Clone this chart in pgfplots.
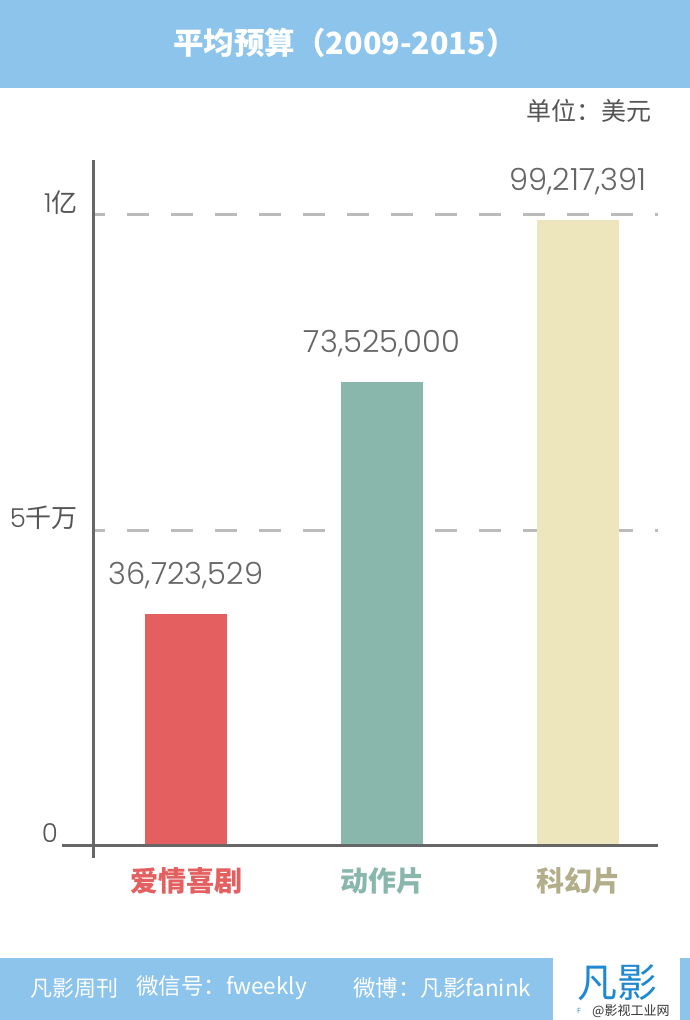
\documentclass[border=0pt]{standalone}
\usepackage{fontspec}
\usepackage{pgfplots}
\usepackage{pgfplotstable}
\pgfplotsset{compat=1.18}
\setmainfont{Noto Sans CJK SC}
\IfFontExistsTF{Poppins Light}{\newfontfamily\numfont{Poppins Light}}{\newfontfamily\numfont{Poppins}}
\definecolor{titleblue}{HTML}{8CC4EC}
\definecolor{romred}{HTML}{E35F60}
\definecolor{actteal}{HTML}{89B7AC}
\definecolor{scibeige}{HTML}{EDE5BC}
\definecolor{scikhaki}{HTML}{B3AE8A}
\definecolor{axisgray}{HTML}{666666}
\definecolor{gridgray}{HTML}{BBBBBB}
\definecolor{valgray}{HTML}{666666}
\definecolor{tickgray}{HTML}{555555}
\definecolor{logoblue}{HTML}{1E88D0}

\pgfplotstableread{
x y label
0 36723529 36,723,529
}\tabA
\pgfplotstableread{
x y label
1 73525000 73,525,000
}\tabB
\pgfplotstableread{
x y label
2 99217391 99,217,391
}\tabC

\begin{document}
\begin{tikzpicture}[x=1pt,y=1pt]
\fill[white] (0,0) rectangle (690,1020);
\path[use as bounding box] (0,0) rectangle (690,1020);
% title bar
\fill[titleblue] (0,932) rectangle (690,1020);
\node[text=white, font=\bfseries\fontsize{30.5}{30.5}\selectfont, inner sep=0] at (345,977) {平均预算（2009-2015）};
\node[anchor=east, text=tickgray, font=\fontsize{25}{25}\selectfont, inner sep=0] at (652,909) {单位：美元};

\begin{axis}[
  at={(62pt,162pt)}, anchor=south west,
  scale only axis, width=596pt, height=698pt,
  xmin=-0.6327, xmax=2.4082, ymin=-2.06e6, ymax=1.0873e8,
  axis lines*=left, axis line style={draw=none},
  ybar, bar width=82pt,
  xtick={0,1,2},
  xticklabels={\textcolor{romred}{爱情喜剧},\textcolor{actteal}{动作片},\textcolor{scikhaki}{科幻片}},
  ytick={0,5e7,1e8},
  yticklabels={{\numfont 0}\hspace*{20pt},{\numfont 5}千万,{\numfont 1}亿},
  major tick length=0pt,
  scaled y ticks=false,
  xticklabel style={font=\bfseries\fontsize{28}{28}\selectfont, inner sep=0pt, anchor=north, yshift=-9pt},
  yticklabel style={text=tickgray, font=\fontsize{26}{26}\selectfont, inner sep=0pt, anchor=east, xshift=16pt, yshift=12pt},
  point meta=explicit symbolic,
  nodes near coords,
  every node near coord/.append style={font=\numfont\fontsize{30.5}{30.5}\selectfont, text=valgray, anchor=center, yshift=38pt, inner sep=0pt},
  clip=false,
]
\draw[gridgray, line width=3pt, dash pattern=on 22pt off 22pt, dash phase=12pt] (axis cs:-0.464,5e7) -- (axis cs:2.408,5e7);
\draw[gridgray, line width=3pt, dash pattern=on 22pt off 22pt, dash phase=12pt] (axis cs:-0.464,1e8) -- (axis cs:2.408,1e8);
\addplot[fill=romred, draw=none, bar shift=0pt] table[x=x, y=y, meta=label] {\tabA};
\addplot[fill=actteal, draw=none, bar shift=0pt] table[x=x, y=y, meta=label] {\tabB};
\addplot[fill=scibeige, draw=none, bar shift=0pt] table[x=x, y=y, meta=label] {\tabC};
\draw[axisgray, line width=3pt] (axis cs:-0.6327,0) -- (axis cs:2.4082,0);
\draw[axisgray, line width=3pt] (axis cs:-0.4745,-2.06e6) -- (axis cs:-0.4745,1.0873e8);
\end{axis}

% footer
\fill[titleblue] (0,0) rectangle (553,62);
\fill[titleblue] (680,0) rectangle (690,62);
\node[anchor=west, text=white, font=\fontsize{22}{22}\selectfont, inner sep=0] at (30,32) {凡影周刊};
\node[anchor=west, text=white, font=\fontsize{22.5}{22.5}\selectfont, inner sep=0] at (136,32) {微信号：fweekly};
\node[anchor=west, text=white, font=\fontsize{22.5}{22.5}\selectfont, inner sep=0] at (353,32) {微博：凡影fanink};
\node[text=logoblue, font=\fontsize{40}{40}\selectfont, inner sep=0] at (617,37) {凡影};
\node[text=logoblue, font=\fontsize{7}{7}\selectfont, inner sep=0] at (579,9) {F};
\node[anchor=west, text=black!80, font=\fontsize{13}{13}\selectfont, inner sep=0] at (592,9) {@影视工业网};
\end{tikzpicture}
\end{document}
